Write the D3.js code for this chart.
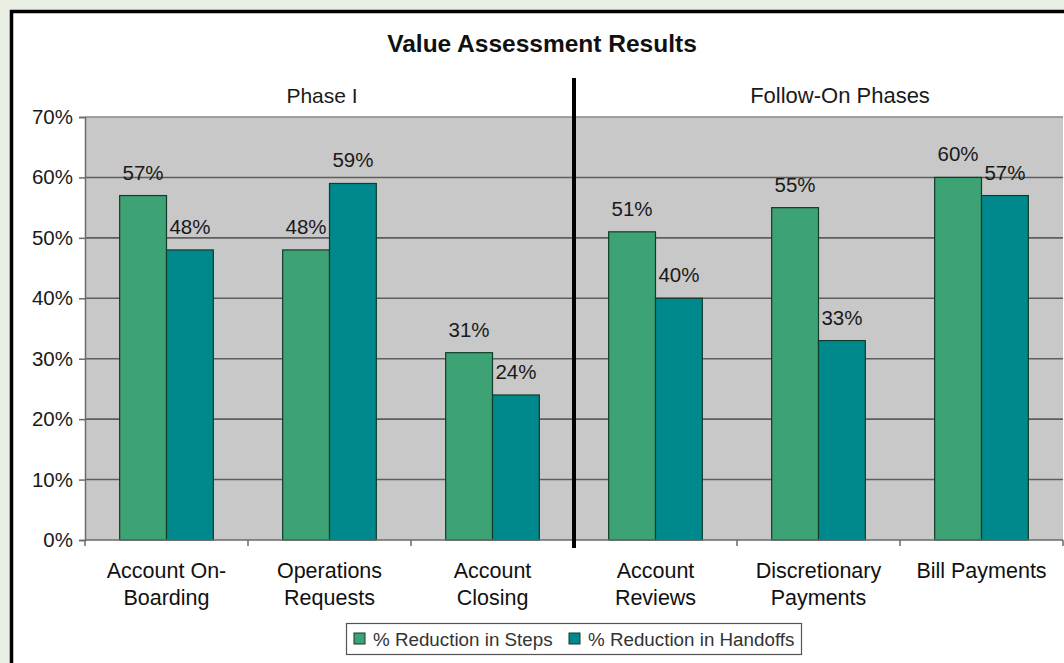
<!DOCTYPE html>
<html>
<head>
<meta charset="utf-8">
<script src="https://cdn.jsdelivr.net/npm/d3@7"></script>
<style>
  html, body { margin: 0; padding: 0; background: #e9f0e3; }
  svg { display: block; font-family: "Liberation Sans", Arial, sans-serif; }
</style>
</head>
<body>
<svg id="chart" width="1064" height="663"></svg>
<script>
// ---- data ----
const categories = ["Account On-Boarding", "Operations Requests", "Account Closing", "Account Reviews", "Discretionary Payments", "Bill Payments"];
const categoryLines = [["Account On-", "Boarding"], ["Operations", "Requests"], ["Account", "Closing"], ["Account", "Reviews"], ["Discretionary", "Payments"], ["Bill Payments"]];
const seriesNames = ["% Reduction in Steps", "% Reduction in Handoffs"];
const stepsReduction = [57, 48, 31, 51, 55, 60];
const handoffsReduction = [48, 59, 24, 40, 33, 57];
const yTicks = [0, 10, 20, 30, 40, 50, 60, 70];
const phaseNames = ["Phase I", "Follow-On Phases"];
const titleText = "Value Assessment Results";

const colors = ["#3ea374", "#00898c"];
const seriesValues = [stepsReduction, handoffsReduction];

const svg = d3.select("#chart");

// frame
svg.append("rect").attr("x", 11.5).attr("y", 11.5).attr("width", 1100).attr("height", 700)
  .attr("fill", "#ffffff").attr("stroke", "#000").attr("stroke-width", 3.5);

const plotLeft = 85, plotRight = 1063, plotTop = 117, plotBottom = 540;

const x = d3.scaleBand().domain(categories).range([plotLeft, plotRight]).padding(0);
const xs = d3.scaleBand().domain(seriesNames).range([0, x.bandwidth()]).paddingInner(0).paddingOuter(0.74);
const y = d3.scaleLinear().domain([0, 70]).range([plotBottom, plotTop]);

// plot background
svg.append("rect").attr("x", plotLeft).attr("y", plotTop).attr("width", plotRight - plotLeft).attr("height", plotBottom - plotTop)
  .attr("fill", "#c8c8c8");

// gridlines
svg.append("g").selectAll("line").data(yTicks.filter(d => d > 0)).join("line")
  .attr("x1", plotLeft).attr("x2", plotRight)
  .attr("y1", d => y(d)).attr("y2", d => y(d))
  .attr("stroke", d => d === 70 ? "#8a8a8a" : "#5e5e5e").attr("stroke-width", 1.6);

// y axis
const yAxis = d3.axisLeft(y).tickValues(yTicks).tickFormat(d => d + "%").tickSize(6).tickPadding(6);
const gy = svg.append("g").attr("transform", `translate(${plotLeft},0)`).call(yAxis);
gy.select(".domain").attr("stroke", "#6a6a6a").attr("stroke-width", 1.5);
gy.selectAll(".tick line").attr("stroke", "#6a6a6a").attr("stroke-width", 1.5);
gy.selectAll(".tick text").attr("font-size", 20.5).attr("fill", "#1a1a1a").attr("font-family", "Liberation Sans, Arial, sans-serif");

// bars
const groups = svg.append("g").selectAll("g").data(categories).join("g")
  .attr("transform", d => `translate(${x(d)},0)`);
seriesNames.forEach((s, si) => {
  groups.append("rect")
    .attr("x", xs(s))
    .attr("width", xs.bandwidth())
    .attr("y", (d, i) => y(seriesValues[si][i]))
    .attr("height", (d, i) => y(0) - y(seriesValues[si][i]))
    .attr("fill", colors[si]).attr("stroke", "#123b2a").attr("stroke-width", 1.2);
  groups.append("text")
    .attr("x", xs(s) + xs.bandwidth() / 2)
    .attr("y", (d, i) => y(seriesValues[si][i]) - 16)
    .attr("text-anchor", "middle").attr("font-size", 20.5).attr("fill", "#1a1a1a")
    .text((d, i) => seriesValues[si][i] + "%");
});

// x axis baseline and boundary ticks
svg.append("line").attr("x1", plotLeft).attr("x2", plotRight).attr("y1", plotBottom).attr("y2", plotBottom)
  .attr("stroke", "#6a6a6a").attr("stroke-width", 1.6);
const boundaries = categories.map(c => x(c)).concat([x.range()[1]]);
svg.append("g").selectAll("line").data(boundaries).join("line")
  .attr("x1", d => d).attr("x2", d => d).attr("y1", plotBottom).attr("y2", plotBottom + 6)
  .attr("stroke", "#6a6a6a").attr("stroke-width", 1.5);

// category labels
svg.append("g").selectAll("text").data(categories).join("text")
  .attr("x", d => x(d) + x.bandwidth() / 2)
  .attr("y", 578)
  .attr("text-anchor", "middle").attr("font-size", 21.5).attr("fill", "#111")
  .each(function(d, i) {
    const t = d3.select(this);
    categoryLines[i].forEach((ln, li) => {
      t.append("tspan").attr("x", x(d) + x.bandwidth() / 2).attr("dy", li === 0 ? 0 : 27).text(ln);
    });
  });

// phase divider
const divX = x(categories[3]);
svg.append("line").attr("x1", divX).attr("x2", divX).attr("y1", 78).attr("y2", 548)
  .attr("stroke", "#000").attr("stroke-width", 4);

// title & phase labels
svg.append("text").attr("x", 542).attr("y", 52).attr("text-anchor", "middle")
  .attr("font-size", 24.5).attr("font-weight", "bold").attr("fill", "#111").text(titleText);
svg.append("text").attr("x", 322).attr("y", 103).attr("text-anchor", "middle")
  .attr("font-size", 21).attr("fill", "#1a1a1a").text(phaseNames[0]);
svg.append("text").attr("x", 840).attr("y", 103).attr("text-anchor", "middle")
  .attr("font-size", 22).attr("fill", "#1a1a1a").text(phaseNames[1]);

// legend
const lg = svg.append("g");
lg.append("rect").attr("x", 346.5).attr("y", 623.5).attr("width", 455).attr("height", 31)
  .attr("fill", "#fff").attr("stroke", "#555").attr("stroke-width", 1.2);
const legendX = [354, 569];
seriesNames.forEach((s, i) => {
  lg.append("rect").attr("x", legendX[i]).attr("y", 633).attr("width", 11).attr("height", 11)
    .attr("fill", colors[i]).attr("stroke", "#123b2a").attr("stroke-width", 1);
  lg.append("text").attr("x", legendX[i] + 19).attr("y", 645.5).attr("font-size", 18.8)
    .attr("fill", "#333").text(s);
});
</script>
</body>
</html>
